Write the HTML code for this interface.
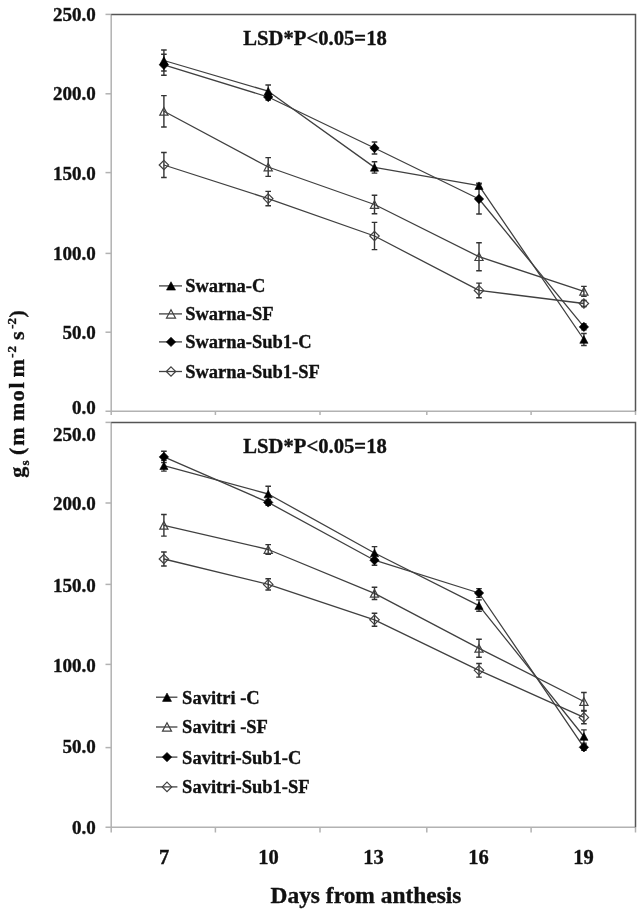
<!DOCTYPE html>
<html><head><meta charset="utf-8"><style>
html,body{margin:0;padding:0;background:#fff;width:638px;height:911px;overflow:hidden}
svg{display:block;filter:grayscale(1)}
text,tspan{font-family:"Liberation Serif",serif;font-weight:bold;fill:#111;stroke:#111;stroke-width:0.35px}
.t22{font-size:22px} .sm{font-size:13px}
.t19{font-size:19px} .t18{font-size:18.5px} .t20{font-size:20.8px} .t205{font-size:20.5px} .t23{font-size:23px}
</style></head><body>
<svg width="638" height="911" viewBox="0 0 638 911">
<rect width="638" height="911" fill="#fff"/>
<path d="M111.2 14.4V415M105.5 411.2H635.5" fill="none" stroke="#b2b2b2" stroke-width="1.5"/>
<path d="M105.5 93.8H111.2" stroke="#b2b2b2" stroke-width="1.5"/>
<path d="M105.5 172.6H111.2" stroke="#b2b2b2" stroke-width="1.5"/>
<path d="M105.5 253.4H111.2" stroke="#b2b2b2" stroke-width="1.5"/>
<path d="M105.5 332.2H111.2" stroke="#b2b2b2" stroke-width="1.5"/>
<path d="M105.5 14.4H111.2" stroke="#b2b2b2" stroke-width="1.5"/>
<path d="M215.4 411.2V415" stroke="#b2b2b2" stroke-width="1.5"/>
<path d="M320 411.2V415" stroke="#b2b2b2" stroke-width="1.5"/>
<path d="M426.8 411.2V415" stroke="#b2b2b2" stroke-width="1.5"/>
<path d="M531.1 411.2V415" stroke="#b2b2b2" stroke-width="1.5"/>
<path d="M635.5 411.2V415" stroke="#b2b2b2" stroke-width="1.5"/>
<path d="M111.2 14.4H635.5V411.2" fill="none" stroke="#555" stroke-width="1.5"/>
<path d="M111.2 422.4V832.5M105.5 827.3H635.5" fill="none" stroke="#b2b2b2" stroke-width="1.5"/>
<path d="M105.5 503H111.2" stroke="#b2b2b2" stroke-width="1.5"/>
<path d="M105.5 584.4H111.2" stroke="#b2b2b2" stroke-width="1.5"/>
<path d="M105.5 664.4H111.2" stroke="#b2b2b2" stroke-width="1.5"/>
<path d="M105.5 747.6H111.2" stroke="#b2b2b2" stroke-width="1.5"/>
<path d="M105.5 422.4H111.2" stroke="#b2b2b2" stroke-width="1.5"/>
<path d="M215.4 827.3V832.5" stroke="#b2b2b2" stroke-width="1.5"/>
<path d="M320 827.3V832.5" stroke="#b2b2b2" stroke-width="1.5"/>
<path d="M426.8 827.3V832.5" stroke="#b2b2b2" stroke-width="1.5"/>
<path d="M531.1 827.3V832.5" stroke="#b2b2b2" stroke-width="1.5"/>
<path d="M635.5 827.3V832.5" stroke="#b2b2b2" stroke-width="1.5"/>
<path d="M111.2 422.4H635.5V827.3" fill="none" stroke="#555" stroke-width="1.5"/>
<text x="95.8" y="20.7" text-anchor="end" class="t19">250.0</text>
<text x="95.8" y="100.3" text-anchor="end" class="t19">200.0</text>
<text x="95.8" y="180" text-anchor="end" class="t19">150.0</text>
<text x="95.8" y="259.9" text-anchor="end" class="t19">100.0</text>
<text x="95.8" y="339.2" text-anchor="end" class="t19">50.0</text>
<text x="95.8" y="413.5" text-anchor="end" class="t19">0.0</text>
<text x="95.8" y="441.2" text-anchor="end" class="t19">250.0</text>
<text x="95.8" y="509.5" text-anchor="end" class="t19">200.0</text>
<text x="95.8" y="592" text-anchor="end" class="t19">150.0</text>
<text x="95.8" y="672" text-anchor="end" class="t19">100.0</text>
<text x="95.8" y="752.8" text-anchor="end" class="t19">50.0</text>
<text x="95.8" y="833.7" text-anchor="end" class="t19">0.0</text>
<text x="243.3" y="44.5" class="t20" textLength="143.5" lengthAdjust="spacingAndGlyphs">LSD*P&lt;0.05=18</text>
<text x="243.3" y="453" class="t20" textLength="143.5" lengthAdjust="spacingAndGlyphs">LSD*P&lt;0.05=18</text>
<polyline points="163.9,165 268.2,198.6 374.5,236 479,290.4 583.9,303.5" fill="none" stroke="#404040" stroke-width="1.3" stroke-linejoin="round"/>
<polyline points="163.9,111.3 268.2,167 374.5,204.5 479,256.7 583.9,291.4" fill="none" stroke="#404040" stroke-width="1.3" stroke-linejoin="round"/>
<polyline points="163.9,64.8 268.2,97 374.5,148 479,199 583.9,326.9" fill="none" stroke="#404040" stroke-width="1.3" stroke-linejoin="round"/>
<polyline points="163.9,60.5 268.2,91.2 374.5,167.4 479,185.7 583.9,339.5" fill="none" stroke="#404040" stroke-width="1.3" stroke-linejoin="round"/>
<path d="M163.9 152.5V177.5M161.1 152.5H166.7M161.1 177.5H166.7" stroke="#333" stroke-width="1.4" fill="none"/>
<path d="M268.2 191.4V205.8M265.4 191.4H271M265.4 205.8H271" stroke="#333" stroke-width="1.4" fill="none"/>
<path d="M374.5 222.4V249.6M371.7 222.4H377.3M371.7 249.6H377.3" stroke="#333" stroke-width="1.4" fill="none"/>
<path d="M479 283.1V297.7M476.2 283.1H481.8M476.2 297.7H481.8" stroke="#333" stroke-width="1.4" fill="none"/>
<path d="M583.9 300.5V306.5M581.1 300.5H586.7M581.1 306.5H586.7" stroke="#333" stroke-width="1.4" fill="none"/>
<path d="M163.9 95.6V127M161.1 95.6H166.7M161.1 127H166.7" stroke="#333" stroke-width="1.4" fill="none"/>
<path d="M268.2 157.6V176.4M265.4 157.6H271M265.4 176.4H271" stroke="#333" stroke-width="1.4" fill="none"/>
<path d="M374.5 195.2V213.8M371.7 195.2H377.3M371.7 213.8H377.3" stroke="#333" stroke-width="1.4" fill="none"/>
<path d="M479 242.7V270.7M476.2 242.7H481.8M476.2 270.7H481.8" stroke="#333" stroke-width="1.4" fill="none"/>
<path d="M583.9 286.4V296.4M581.1 286.4H586.7M581.1 296.4H586.7" stroke="#333" stroke-width="1.4" fill="none"/>
<path d="M163.9 54.3V75.3M161.1 54.3H166.7M161.1 75.3H166.7" stroke="#333" stroke-width="1.4" fill="none"/>
<path d="M268.2 94V100M265.4 94H271M265.4 100H271" stroke="#333" stroke-width="1.4" fill="none"/>
<path d="M374.5 142V154M371.7 142H377.3M371.7 154H377.3" stroke="#333" stroke-width="1.4" fill="none"/>
<path d="M479 184V214M476.2 184H481.8M476.2 214H481.8" stroke="#333" stroke-width="1.4" fill="none"/>
<path d="M583.9 323.9V329.9M581.1 323.9H586.7M581.1 329.9H586.7" stroke="#333" stroke-width="1.4" fill="none"/>
<path d="M163.9 50V71M161.1 50H166.7M161.1 71H166.7" stroke="#333" stroke-width="1.4" fill="none"/>
<path d="M268.2 85V97.4M265.4 85H271M265.4 97.4H271" stroke="#333" stroke-width="1.4" fill="none"/>
<path d="M374.5 161.7V173.1M371.7 161.7H377.3M371.7 173.1H377.3" stroke="#333" stroke-width="1.4" fill="none"/>
<path d="M479 183.2V188.2M476.2 183.2H481.8M476.2 188.2H481.8" stroke="#333" stroke-width="1.4" fill="none"/>
<path d="M583.9 333.5V345.5M581.1 333.5H586.7M581.1 345.5H586.7" stroke="#333" stroke-width="1.4" fill="none"/>
<polygon points="163.9,160.3 168.6,165 163.9,169.7 159.2,165" fill="none" stroke="#404040" stroke-width="1.2"/>
<polygon points="268.2,193.9 272.9,198.6 268.2,203.3 263.5,198.6" fill="none" stroke="#404040" stroke-width="1.2"/>
<polygon points="374.5,231.3 379.2,236 374.5,240.7 369.8,236" fill="none" stroke="#404040" stroke-width="1.2"/>
<polygon points="479,285.7 483.7,290.4 479,295.1 474.3,290.4" fill="none" stroke="#404040" stroke-width="1.2"/>
<polygon points="583.9,298.8 588.6,303.5 583.9,308.2 579.2,303.5" fill="none" stroke="#404040" stroke-width="1.2"/>
<polygon points="163.9,107.5 168,115.1 159.8,115.1" fill="none" stroke="#404040" stroke-width="1.2"/>
<polygon points="268.2,163.2 272.3,170.8 264.1,170.8" fill="none" stroke="#404040" stroke-width="1.2"/>
<polygon points="374.5,200.7 378.6,208.3 370.4,208.3" fill="none" stroke="#404040" stroke-width="1.2"/>
<polygon points="479,252.9 483.1,260.5 474.9,260.5" fill="none" stroke="#404040" stroke-width="1.2"/>
<polygon points="583.9,287.6 588,295.2 579.8,295.2" fill="none" stroke="#404040" stroke-width="1.2"/>
<polygon points="163.9,60.1 168.6,64.8 163.9,69.5 159.2,64.8" fill="#000" stroke="#000" stroke-width="0.6"/>
<polygon points="268.2,92.3 272.9,97 268.2,101.7 263.5,97" fill="#000" stroke="#000" stroke-width="0.6"/>
<polygon points="374.5,143.3 379.2,148 374.5,152.7 369.8,148" fill="#000" stroke="#000" stroke-width="0.6"/>
<polygon points="479,194.3 483.7,199 479,203.7 474.3,199" fill="#000" stroke="#000" stroke-width="0.6"/>
<polygon points="583.9,322.2 588.6,326.9 583.9,331.6 579.2,326.9" fill="#000" stroke="#000" stroke-width="0.6"/>
<polygon points="163.9,56.7 168,64.3 159.8,64.3" fill="#000" stroke="#000" stroke-width="0.6"/>
<polygon points="268.2,87.4 272.3,95 264.1,95" fill="#000" stroke="#000" stroke-width="0.6"/>
<polygon points="374.5,163.6 378.6,171.2 370.4,171.2" fill="#000" stroke="#000" stroke-width="0.6"/>
<polygon points="479,181.9 483.1,189.5 474.9,189.5" fill="#000" stroke="#000" stroke-width="0.6"/>
<polygon points="583.9,335.7 588,343.3 579.8,343.3" fill="#000" stroke="#000" stroke-width="0.6"/>
<polyline points="163.9,559 268.2,584.4 374.5,619.8 479,670.3 583.9,717.4" fill="none" stroke="#404040" stroke-width="1.3" stroke-linejoin="round"/>
<polyline points="163.9,525.3 268.2,549.5 374.5,593.4 479,648.3 583.9,701.5" fill="none" stroke="#404040" stroke-width="1.3" stroke-linejoin="round"/>
<polyline points="163.9,456.9 268.2,502.4 374.5,560.2 479,593 583.9,747.3" fill="none" stroke="#404040" stroke-width="1.3" stroke-linejoin="round"/>
<polyline points="163.9,465.7 268.2,494 374.5,553 479,605.6 583.9,736.5" fill="none" stroke="#404040" stroke-width="1.3" stroke-linejoin="round"/>
<path d="M163.9 552V566M161.1 552H166.7M161.1 566H166.7" stroke="#333" stroke-width="1.4" fill="none"/>
<path d="M268.2 578.8V590M265.4 578.8H271M265.4 590H271" stroke="#333" stroke-width="1.4" fill="none"/>
<path d="M374.5 613.3V626.3M371.7 613.3H377.3M371.7 626.3H377.3" stroke="#333" stroke-width="1.4" fill="none"/>
<path d="M479 663.5V677.1M476.2 663.5H481.8M476.2 677.1H481.8" stroke="#333" stroke-width="1.4" fill="none"/>
<path d="M583.9 711.1V723.7M581.1 711.1H586.7M581.1 723.7H586.7" stroke="#333" stroke-width="1.4" fill="none"/>
<path d="M163.9 514.5V536.1M161.1 514.5H166.7M161.1 536.1H166.7" stroke="#333" stroke-width="1.4" fill="none"/>
<path d="M268.2 544.6V554.4M265.4 544.6H271M265.4 554.4H271" stroke="#333" stroke-width="1.4" fill="none"/>
<path d="M374.5 587.3V599.5M371.7 587.3H377.3M371.7 599.5H377.3" stroke="#333" stroke-width="1.4" fill="none"/>
<path d="M479 639.3V657.3M476.2 639.3H481.8M476.2 657.3H481.8" stroke="#333" stroke-width="1.4" fill="none"/>
<path d="M583.9 692.5V710.5M581.1 692.5H586.7M581.1 710.5H586.7" stroke="#333" stroke-width="1.4" fill="none"/>
<path d="M163.9 451.3V462.5M161.1 451.3H166.7M161.1 462.5H166.7" stroke="#333" stroke-width="1.4" fill="none"/>
<path d="M268.2 499.4V505.4M265.4 499.4H271M265.4 505.4H271" stroke="#333" stroke-width="1.4" fill="none"/>
<path d="M374.5 555.2V565.2M371.7 555.2H377.3M371.7 565.2H377.3" stroke="#333" stroke-width="1.4" fill="none"/>
<path d="M479 588.6V597.4M476.2 588.6H481.8M476.2 597.4H481.8" stroke="#333" stroke-width="1.4" fill="none"/>
<path d="M583.9 744.3V750.3M581.1 744.3H586.7M581.1 750.3H586.7" stroke="#333" stroke-width="1.4" fill="none"/>
<path d="M163.9 460.3V471.1M161.1 460.3H166.7M161.1 471.1H166.7" stroke="#333" stroke-width="1.4" fill="none"/>
<path d="M268.2 486.3V501.7M265.4 486.3H271M265.4 501.7H271" stroke="#333" stroke-width="1.4" fill="none"/>
<path d="M374.5 546.6V559.4M371.7 546.6H377.3M371.7 559.4H377.3" stroke="#333" stroke-width="1.4" fill="none"/>
<path d="M479 599.9V611.3M476.2 599.9H481.8M476.2 611.3H481.8" stroke="#333" stroke-width="1.4" fill="none"/>
<path d="M583.9 729.9V743.1M581.1 729.9H586.7M581.1 743.1H586.7" stroke="#333" stroke-width="1.4" fill="none"/>
<polygon points="163.9,554.3 168.6,559 163.9,563.7 159.2,559" fill="none" stroke="#404040" stroke-width="1.2"/>
<polygon points="268.2,579.7 272.9,584.4 268.2,589.1 263.5,584.4" fill="none" stroke="#404040" stroke-width="1.2"/>
<polygon points="374.5,615.1 379.2,619.8 374.5,624.5 369.8,619.8" fill="none" stroke="#404040" stroke-width="1.2"/>
<polygon points="479,665.6 483.7,670.3 479,675 474.3,670.3" fill="none" stroke="#404040" stroke-width="1.2"/>
<polygon points="583.9,712.7 588.6,717.4 583.9,722.1 579.2,717.4" fill="none" stroke="#404040" stroke-width="1.2"/>
<polygon points="163.9,521.5 168,529.1 159.8,529.1" fill="none" stroke="#404040" stroke-width="1.2"/>
<polygon points="268.2,545.7 272.3,553.3 264.1,553.3" fill="none" stroke="#404040" stroke-width="1.2"/>
<polygon points="374.5,589.6 378.6,597.2 370.4,597.2" fill="none" stroke="#404040" stroke-width="1.2"/>
<polygon points="479,644.5 483.1,652.1 474.9,652.1" fill="none" stroke="#404040" stroke-width="1.2"/>
<polygon points="583.9,697.7 588,705.3 579.8,705.3" fill="none" stroke="#404040" stroke-width="1.2"/>
<polygon points="163.9,452.2 168.6,456.9 163.9,461.6 159.2,456.9" fill="#000" stroke="#000" stroke-width="0.6"/>
<polygon points="268.2,497.7 272.9,502.4 268.2,507.1 263.5,502.4" fill="#000" stroke="#000" stroke-width="0.6"/>
<polygon points="374.5,555.5 379.2,560.2 374.5,564.9 369.8,560.2" fill="#000" stroke="#000" stroke-width="0.6"/>
<polygon points="479,588.3 483.7,593 479,597.7 474.3,593" fill="#000" stroke="#000" stroke-width="0.6"/>
<polygon points="583.9,742.6 588.6,747.3 583.9,752 579.2,747.3" fill="#000" stroke="#000" stroke-width="0.6"/>
<polygon points="163.9,461.9 168,469.5 159.8,469.5" fill="#000" stroke="#000" stroke-width="0.6"/>
<polygon points="268.2,490.2 272.3,497.8 264.1,497.8" fill="#000" stroke="#000" stroke-width="0.6"/>
<polygon points="374.5,549.2 378.6,556.8 370.4,556.8" fill="#000" stroke="#000" stroke-width="0.6"/>
<polygon points="479,601.8 483.1,609.4 474.9,609.4" fill="#000" stroke="#000" stroke-width="0.6"/>
<polygon points="583.9,732.7 588,740.3 579.8,740.3" fill="#000" stroke="#000" stroke-width="0.6"/>
<path d="M159 285.9H182" stroke="#404040" stroke-width="1.3"/>
<polygon points="171,281.72 175.51,290.08 166.49,290.08" fill="#000" stroke="#000" stroke-width="0.6"/>
<text x="185.2" y="292.3" class="t18">Swarna-C</text>
<path d="M159 313.9H182" stroke="#404040" stroke-width="1.3"/>
<polygon points="171,309.72 175.51,318.08 166.49,318.08" fill="none" stroke="#404040" stroke-width="1.2"/>
<text x="185.2" y="320.3" class="t18">Swarna-SF</text>
<path d="M159 341.9H182" stroke="#404040" stroke-width="1.3"/>
<polygon points="171,337.2 175.7,341.9 171,346.6 166.3,341.9" fill="#000" stroke="#000" stroke-width="0.6"/>
<text x="185.2" y="348.3" class="t18">Swarna-Sub1-C</text>
<path d="M159 371.5H182" stroke="#404040" stroke-width="1.3"/>
<polygon points="171,366.8 175.7,371.5 171,376.2 166.3,371.5" fill="none" stroke="#404040" stroke-width="1.2"/>
<text x="185.2" y="377.9" class="t18">Swarna-Sub1-SF</text>
<path d="M156 697.2H177.4" stroke="#404040" stroke-width="1.3"/>
<polygon points="167,693.02 171.51,701.38 162.49,701.38" fill="#000" stroke="#000" stroke-width="0.6"/>
<text x="182.1" y="703.6" class="t18">Savitri -C</text>
<path d="M156 727H177.4" stroke="#404040" stroke-width="1.3"/>
<polygon points="167,722.82 171.51,731.18 162.49,731.18" fill="none" stroke="#404040" stroke-width="1.2"/>
<text x="182.1" y="733.4" class="t18">Savitri -SF</text>
<path d="M156 757.1H177.4" stroke="#404040" stroke-width="1.3"/>
<polygon points="167,752.4 171.7,757.1 167,761.8 162.3,757.1" fill="#000" stroke="#000" stroke-width="0.6"/>
<text x="182.1" y="763.5" class="t18">Savitri-Sub1-C</text>
<path d="M156 786.9H177.4" stroke="#404040" stroke-width="1.3"/>
<polygon points="167,782.2 171.7,786.9 167,791.6 162.3,786.9" fill="none" stroke="#404040" stroke-width="1.2"/>
<text x="182.1" y="793.3" class="t18">Savitri-Sub1-SF</text>
<g class="t205">
<text x="164" y="863.5" text-anchor="middle">7</text>
<text x="268.4" y="863.5" text-anchor="middle">10</text>
<text x="373.6" y="863.5" text-anchor="middle">13</text>
<text x="478.6" y="863.5" text-anchor="middle">16</text>
<text x="583.6" y="863.5" text-anchor="middle">19</text>
</g>
<text x="270.5" y="902.5" class="t23" textLength="191" lengthAdjust="spacingAndGlyphs">Days from anthesis</text>
<text transform="translate(23.6 477.7) rotate(-90)" class="t22"><tspan x="0" y="0">g</tspan><tspan class="sm" x="12.2" y="5.2">s</tspan><tspan x="22.8" y="0">(</tspan><tspan x="32">m</tspan><tspan x="56.6">m</tspan><tspan x="76.4">o</tspan><tspan x="89.2">l</tspan><tspan x="100.2">m</tspan><tspan class="sm" x="120" y="-7.6">-</tspan><tspan class="sm" x="125.3" y="-7.6">2</tspan><tspan x="137.8" y="0">s</tspan><tspan class="sm" x="149" y="-7.6">-</tspan><tspan class="sm" x="153.3" y="-7.6">2</tspan><tspan x="160.3" y="0">)</tspan></text>
</svg>
</body></html>
